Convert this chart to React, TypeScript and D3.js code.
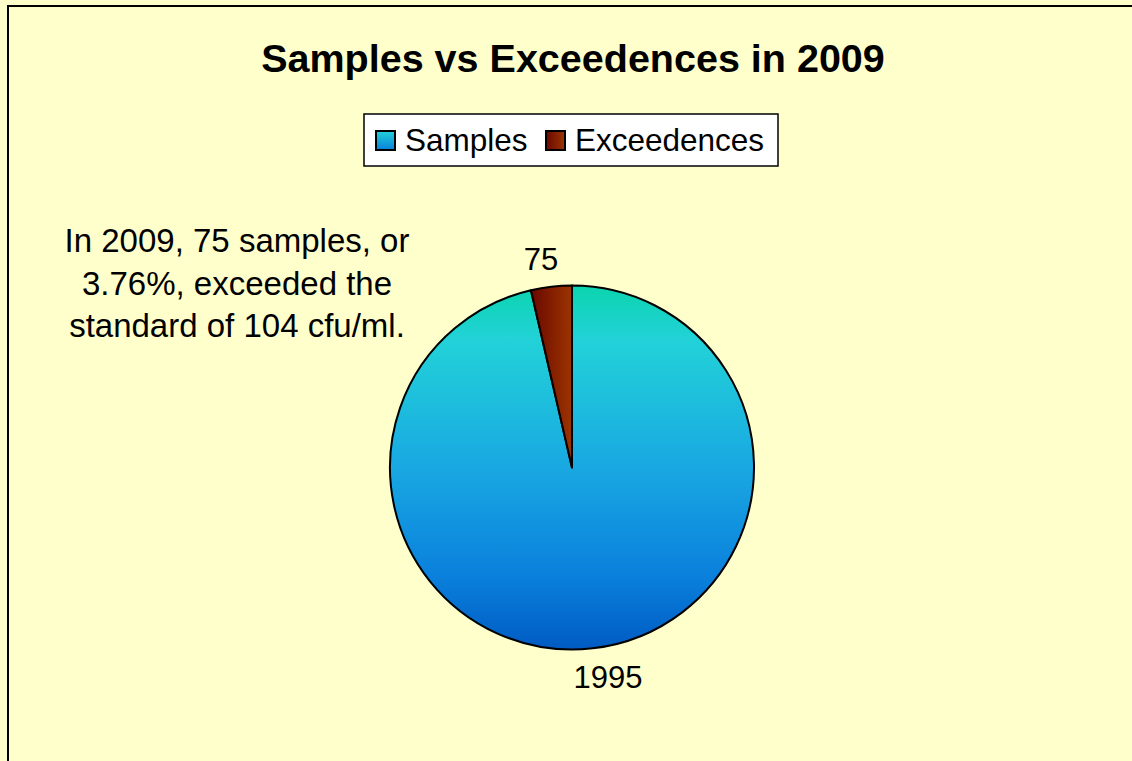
import React from "react";
import * as d3 from "d3";

const categories = ["Samples", "Exceedences"];
const values = [1995, 75];
const titleText = "Samples vs Exceedences in 2009";
const noteLines = ["In 2009, 75 samples, or", "3.76%, exceeded the", "standard of 104 cfu/ml."];

const W = 1132;
const H = 761;
const FONT = "'Liberation Sans', Arial, sans-serif";

export default function App() {
  const cx = 572;
  const cy = 467.5;
  const r = 182;
  const pie = d3.pie<number>().sort(null).value((d) => d)(values);
  const arc = d3.arc<d3.PieArcDatum<number>>().innerRadius(0).outerRadius(r);
  const fills = ["url(#gSamples)", "url(#gExc)"];
  const labelPos = [
    [608, 688],
    [541, 270],
  ];
  return (
    <svg width={W} height={H} style={{ position: "absolute", left: 0, top: 0 }} fontFamily={FONT}>
      <defs>
        <linearGradient id="gSamples" gradientUnits="userSpaceOnUse" x1={0} y1={-r} x2={0} y2={r}>
          <stop offset="0" stopColor="#0BD4AE" />
          <stop offset="0.15" stopColor="#22D2D8" />
          <stop offset="0.5" stopColor="#19A8E2" />
          <stop offset="0.8" stopColor="#0A80DC" />
          <stop offset="1" stopColor="#005BC2" />
        </linearGradient>
        <linearGradient id="gExc" x1="0" y1="0" x2="1" y2="0">
          <stop offset="0" stopColor="#6A0800" />
          <stop offset="1" stopColor="#9C3400" />
        </linearGradient>
        <linearGradient id="gLegS" x1="0" y1="0" x2="0" y2="1">
          <stop offset="0" stopColor="#22D2D8" />
          <stop offset="1" stopColor="#0A80DC" />
        </linearGradient>
      </defs>
      <rect x={0} y={0} width={W} height={H} fill="#FFFFCC" />
      <rect x={8} y={6} width={W + 20} height={H + 20} fill="#FFFFCC" stroke="#000" strokeWidth={2} />
      <text x={573} y={72} textAnchor="middle" fontSize={39.5} fontWeight="bold" fill="#000">
        {titleText}
      </text>
      <g>
        <rect x={364} y={114} width={414} height={52} fill="#fff" stroke="#000" strokeWidth={1.5} />
        {categories.map((c, i) => {
          const x0 = i === 0 ? 376 : 546;
          return (
            <g key={c}>
              <rect x={x0} y={131} width={19} height={19} fill={i === 0 ? "url(#gLegS)" : "url(#gExc)"} stroke="#000" strokeWidth={2} />
              <text x={x0 + 29} y={151} fontSize={31.5} fill="#000">
                {c}
              </text>
            </g>
          );
        })}
      </g>
      <g transform={`translate(${cx},${cy})`}>
        {pie.map((p, i) => (
          <path key={i} d={arc(p) || ""} fill={fills[i]} stroke="#000" strokeWidth={2} strokeLinejoin="round" />
        ))}
      </g>
      {pie.map((p, i) => (
        <text key={i} x={labelPos[i][0]} y={labelPos[i][1]} textAnchor="middle" fontSize={31} fill="#000">
          {p.data}
        </text>
      ))}
      {noteLines.map((t, i) => (
        <text key={i} x={237} y={252 + i * 42.5} textAnchor="middle" fontSize={33} fill="#000">
          {t}
        </text>
      ))}
    </svg>
  );
}
